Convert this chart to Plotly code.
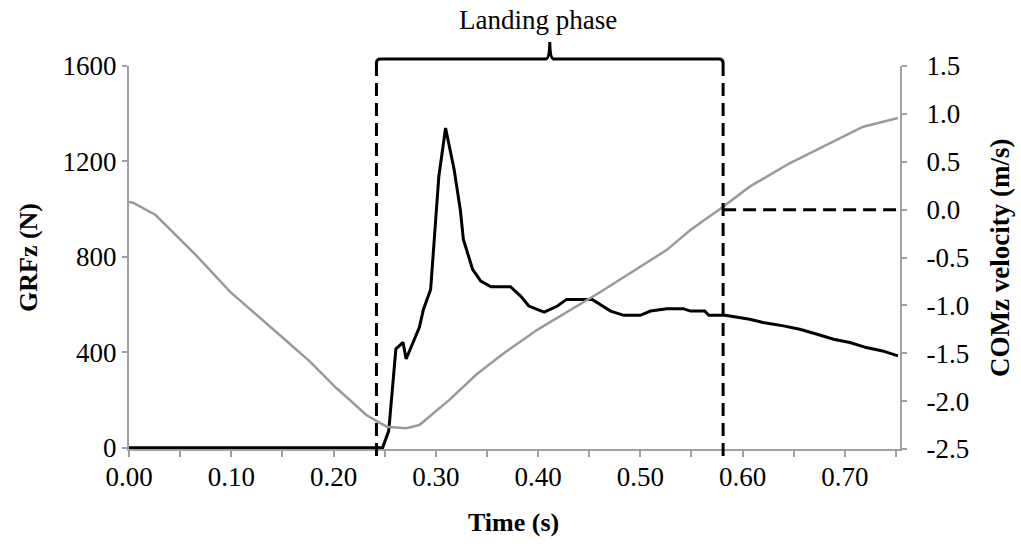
import plotly.graph_objects as go

# Vertical ground reaction force (black, left axis)
grf_time = [0.000, 0.248, 0.254, 0.261, 0.268, 0.271, 0.284, 0.288, 0.295, 0.303,
            0.3096, 0.318, 0.324, 0.327, 0.336, 0.344, 0.354, 0.373, 0.383, 0.391,
            0.406, 0.419, 0.428, 0.453, 0.471, 0.484, 0.500, 0.510, 0.526, 0.542,
            0.549, 0.563, 0.567, 0.583, 0.607, 0.620, 0.640, 0.656, 0.673, 0.689,
            0.705, 0.721, 0.737, 0.752]
grf_n = [0, 0, 71, 414, 442, 372, 505, 581, 664, 1137,
         1340, 1165, 998, 873, 748, 699, 675, 675, 636, 594,
         569, 594, 622, 622, 573, 555, 555, 573, 583, 583,
         573, 573, 555, 555, 539, 525, 511, 497, 476, 455,
         441, 420, 406, 385]

# Vertical centre-of-mass velocity (grey, right axis)
com_time = [0.000, 0.004, 0.026, 0.065, 0.099, 0.131, 0.151, 0.177, 0.203, 0.216,
            0.232, 0.252, 0.262, 0.271, 0.284, 0.294, 0.313, 0.340, 0.3665, 0.400,
            0.461, 0.526, 0.549, 0.581, 0.607, 0.646, 0.686, 0.718, 0.752]
com_v = [0.08, 0.072, -0.056, -0.47, -0.86, -1.153, -1.344, -1.588, -1.866, -1.988,
         -2.145, -2.267, -2.28, -2.284, -2.25, -2.163, -1.99, -1.72, -1.50, -1.25,
         -0.86, -0.42, -0.213, 0.03, 0.24, 0.484, 0.693, 0.866, 0.957]

# Landing phase limits (s)
landing_start = 0.242
landing_end = 0.581

# Axis ticks
x_tickvals = [0.00, 0.05, 0.10, 0.15, 0.20, 0.25, 0.30, 0.35, 0.40, 0.45, 0.50,
              0.55, 0.60, 0.65, 0.70, 0.75]
x_ticktext = ["0.00", "", "0.10", "", "0.20", "", "0.30", "", "0.40", "", "0.50",
              "", "0.60", "", "0.70", ""]
y_tickvals = [0, 400, 800, 1200, 1600]
y2_tickvals = [-2.5, -2.0, -1.5, -1.0, -0.5, 0.0, 0.5, 1.0, 1.5]
y2_ticktext = ["-2.5", "-2.0", "-1.5", "-1.0", "-0.5", "0.0", "0.5", "1.0", "1.5"]

W, H = 1021, 550
L, R, T, B = 129, 121, 66, 101
PW, PH = W - L - R, H - T - B
X_MAX = 0.754


def px_x(px):
    return (px - L) / PW


def px_y(py):
    return (H - B - py) / PH


FONT = "Liberation Serif"
AXIS_GREY = "#a0a0a0"
TICK_SIZE = 27

fig = go.Figure()
fig.add_trace(go.Scatter(x=grf_time, y=grf_n, mode="lines",
                         line=dict(color="black", width=3), yaxis="y",
                         showlegend=False))
fig.add_trace(go.Scatter(x=com_time, y=com_v, mode="lines",
                         line=dict(color="#9a9a9a", width=2.5), yaxis="y2",
                         showlegend=False))

dash = "13px,7px"
y_low, y_bar, y_tip = px_y(75), px_y(59), px_y(42)
y_bottom = px_y(456)
rx, ry = 4 / 1024, 4 / PH
cw = 4 / 1024
xm = (landing_start + landing_end) / 2

# Dashed limits of the landing phase
for xv in (landing_start, landing_end):
    fig.add_shape(type="line", xref="x", yref="paper", x0=xv, x1=xv,
                  y0=y_bottom, y1=y_low,
                  line=dict(color="black", width=3, dash=dash))

# Zero-velocity reference from end of landing to the right axis
fig.add_shape(type="line", xref="x", yref="y2", x0=landing_end, x1=X_MAX,
              y0=0, y1=0, line=dict(color="black", width=3, dash=dash))

# Curly bracket over the landing phase
path = (f"M {landing_start},{y_low} L {landing_start},{y_bar - ry} "
        f"Q {landing_start},{y_bar} {landing_start + rx},{y_bar} "
        f"L {xm - cw},{y_bar} Q {xm - 0.0003},{y_bar} {xm},{y_tip} "
        f"Q {xm + 0.0003},{y_bar} {xm + cw},{y_bar} "
        f"L {landing_end - rx},{y_bar} "
        f"Q {landing_end},{y_bar} {landing_end},{y_bar - ry} "
        f"L {landing_end},{y_low}")
fig.add_shape(type="path", xref="x", yref="paper", path=path,
              line=dict(color="black", width=3))


def label(text, x, y, size, angle=0):
    fig.add_annotation(text=text, xref="paper", yref="paper",
                       x=px_x(x), y=px_y(y), xanchor="center",
                       yanchor="middle", showarrow=False, textangle=angle,
                       font=dict(family=FONT, size=size, color="black"))


label("Landing phase", 538, 20, 27)
label("<b>Time (s)</b>", 513, 522, 26)
label("<b>GRFz (N)</b>", 28, 258, 26, -90)
label("<b>COMz velocity (m/s)</b>", 1000, 258, 27, -90)

fig.update_layout(
    width=W, height=H,
    margin=dict(l=L, r=R, t=T, b=B, pad=0),
    paper_bgcolor="white", plot_bgcolor="white",
    font=dict(family=FONT, size=TICK_SIZE, color="black"),
    xaxis=dict(range=[0, X_MAX], tickvals=x_tickvals, ticktext=x_ticktext,
               showgrid=False, zeroline=False, showline=True,
               linecolor=AXIS_GREY, linewidth=2, ticks="outside",
               ticklen=6, tickwidth=2, tickcolor=AXIS_GREY,
               ticklabelstandoff=-3, layer="below traces"),
    yaxis=dict(range=[-5, 1600], tickvals=y_tickvals, showgrid=False,
               zeroline=False, showline=True, linecolor=AXIS_GREY,
               linewidth=2, ticks="outside", ticklen=5, tickwidth=2,
               tickcolor=AXIS_GREY, layer="below traces"),
    yaxis2=dict(range=[-2.5, 1.5], tickvals=y2_tickvals, ticktext=y2_ticktext,
                overlaying="y", side="right", showgrid=False, zeroline=False,
                showline=True, linecolor=AXIS_GREY, linewidth=2,
                ticks="outside", ticklen=5, tickwidth=2, tickcolor=AXIS_GREY,
                ticklabelstandoff=14, layer="below traces"),
)

fig.write_html("out.html")
